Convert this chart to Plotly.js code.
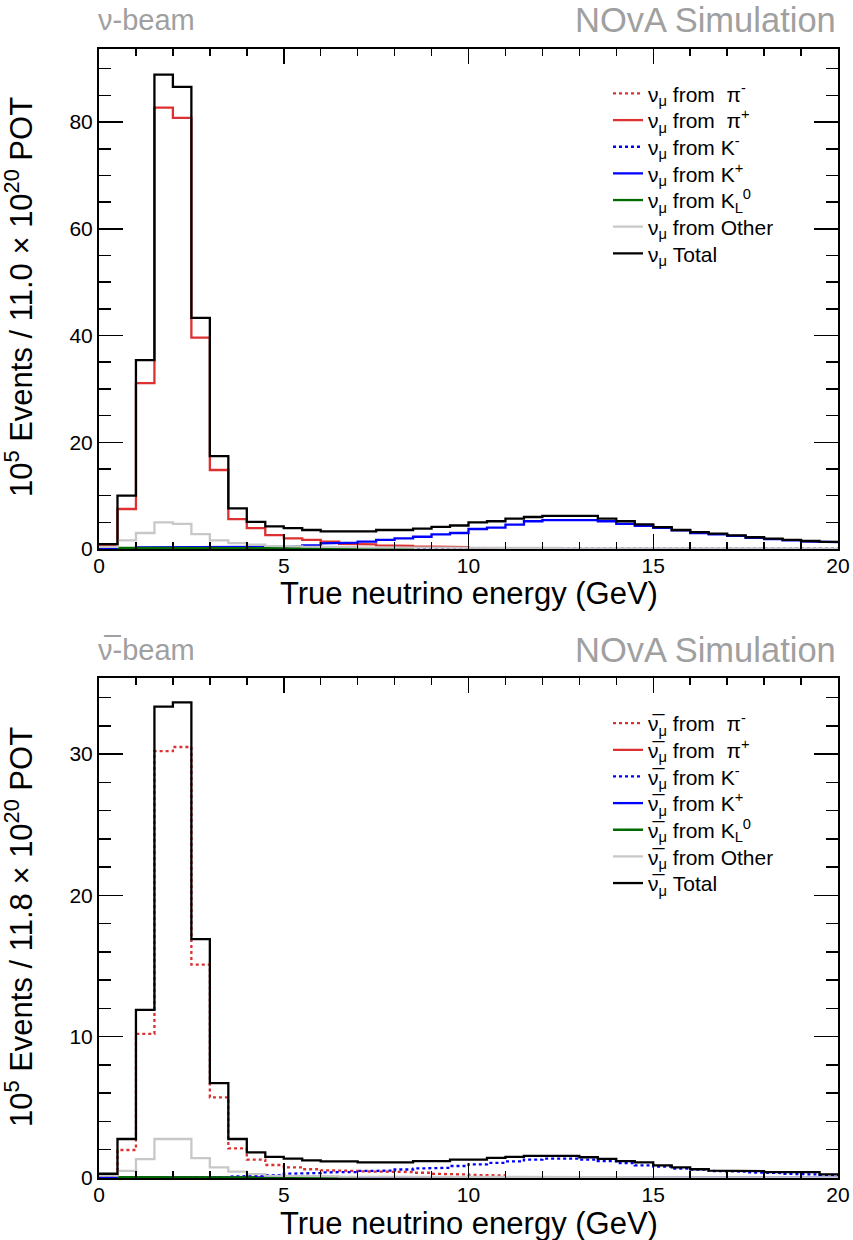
<!DOCTYPE html>
<html><head><meta charset="utf-8">
<script src="https://cdn.plot.ly/plotly-3.0.1.min.js"></script>
<style>body{margin:0;background:#fff}</style>
</head><body><div id="chart" style="width:853px;height:1240px"></div>
<script>
// Bin edges (GeV), 0.5 GeV bins
const binEdges = [0,0.5,1,1.5,2,2.5,3,3.5,4,4.5,5,5.5,6,6.5,7,7.5,8,8.5,9,9.5,10,10.5,11,11.5,12,12.5,13,13.5,14,14.5,15,15.5,16,16.5,17,17.5,18,18.5,19,19.5,20];

// ---- neutrino beam (top panel), units of 1e5 events ----
const nuPiMinus = [0.1,0.12,0.15,0.15,0.15,0.12,0.12,0.1,0.1,0.1,0.08,0.08,0.08,0.06,0.06,0.05,0.05,null,null,null,null,null,null,null,null,null,null,null,null,null,null,null,null,null,null,null,null,null,null,null];
const nuPiPlus  = [0.75,7.5,31.1,82.7,80.8,39.6,14.8,5.6,3.9,2.6,2.0,1.7,1.4,0.94,0.87,0.67,0.6,0.47,0.34,0.34,0.2,0.13,0.13,null,null,null,null,null,null,null,null,null,null,null,null,null,null,null,null,null];
const nuKMinus  = [0.05,0.05,0.06,0.08,0.08,0.08,0.08,0.08,0.08,0.08,0.08,0.1,0.1,0.1,0.1,0.1,0.1,0.1,0.1,0.1,0.1,0.1,0.1,0.1,0.1,0.1,0.1,0.1,0.1,0.1,0.1,0.08,0.08,0.08,0.06,0.06,0.06,0.05,0.05,0.05];
const nuKPlus   = [0.05,0.15,0.3,0.35,0.35,0.35,0.35,0.4,0.4,0.45,0.55,0.67,1.07,1.2,1.4,1.7,2.0,2.3,2.75,3.0,3.75,4.0,4.56,5.2,5.4,5.4,5.4,5.2,4.7,4.36,3.96,3.5,3.0,2.75,2.45,2.1,1.85,1.6,1.42,1.28];
const nuKL      = [null,0.2,0.2,0.25,0.25,0.25,0.2,0.2,0.2,0.18,0.15,0.15,0.12,0.1,0.1,0.08,0.06,null,null,null,null,null,null,null,null,null,null,null,null,null,null,null,null,null,null,null,null,null,null,null];
const nuOther   = [0.4,1.6,3.0,5.0,4.7,2.8,1.6,1.1,0.8,0.6,0.5,0.45,0.4,0.35,0.3,0.3,0.25,0.25,0.2,0.2,0.2,0.2,0.2,0.2,0.2,0.15,0.15,0.15,0.15,0.1,0.1,0.1,0.1,0.1,0.1,0.1,0.1,0.08,0.08,0.08];
const nuTotal   = [0.9,10.0,35.4,88.9,86.6,43.3,17.4,7.6,5.1,4.25,3.9,3.56,3.3,3.3,3.3,3.56,3.56,3.8,4.16,4.4,5.0,5.2,5.7,6.0,6.2,6.2,6.2,5.7,5.2,4.6,4.1,3.56,3.15,2.9,2.55,2.2,1.95,1.7,1.5,1.35];

// ---- antineutrino beam (bottom panel) ----
const anuPiMinus = [0.1,1.98,10.2,30.2,30.5,15.1,5.7,2.1,1.3,0.92,0.75,0.62,0.55,0.5,0.47,0.45,0.42,0.37,0.3,0.25,0.22,0.18,null,null,null,null,null,null,null,null,null,null,null,null,null,null,null,null,null,null];
const anuPiPlus  = [0.05,0.05,0.06,0.06,0.06,0.06,0.05,0.05,0.05,0.04,0.04,0.04,0.04,0.03,0.03,0.03,null,null,null,null,null,null,null,null,null,null,null,null,null,null,null,null,null,null,null,null,null,null,null,null];
const anuKMinus  = [0.03,0.04,0.05,0.05,0.05,0.05,0.06,0.1,0.15,0.2,0.3,0.35,0.4,0.42,0.5,0.52,0.6,0.67,0.72,0.85,0.97,1.07,1.17,1.3,1.37,1.37,1.3,1.2,1.05,0.9,0.8,0.67,0.6,0.5,0.45,0.4,0.35,0.3,0.25,0.22];
const anuKPlus   = [0.03,0.04,0.05,0.05,0.05,0.05,0.05,0.05,0.05,0.05,0.05,0.05,0.05,0.05,0.05,0.05,0.05,0.05,0.05,0.05,0.05,0.05,0.05,0.05,0.05,0.05,0.05,0.05,0.04,0.04,0.04,0.04,0.04,0.03,0.03,0.03,0.03,0.03,0.03,0.03];
const anuKL      = [null,0.06,0.06,0.07,0.07,0.07,0.06,0.06,0.06,0.05,0.05,0.05,0.04,0.04,null,null,null,null,null,null,null,null,null,null,null,null,null,null,null,null,null,null,null,null,null,null,null,null,null,null];
const anuOther   = [0.17,0.5,1.34,2.76,2.76,1.4,0.75,0.45,0.28,0.17,0.15,0.13,0.12,0.1,0.1,0.1,0.09,0.09,0.08,0.08,0.08,0.07,0.07,0.07,0.06,0.06,0.06,0.05,0.05,0.05,0.05,0.05,0.04,0.04,0.04,0.04,0.03,0.03,0.03,0.03];
const anuTotal   = [0.3,2.76,11.9,33.35,33.65,16.9,6.72,2.76,1.82,1.5,1.37,1.25,1.17,1.17,1.1,1.1,1.1,1.2,1.2,1.3,1.3,1.42,1.5,1.57,1.57,1.57,1.47,1.35,1.2,1.1,0.9,0.75,0.62,0.52,0.48,0.48,0.42,0.42,0.42,0.25];

const seriesNames = ["from  π<sup>-</sup>","from  π<sup>+</sup>","from K<sup>-</sup>","from K<sup>+</sup>","from K<sub>L</sub><sup>0</sup>","from Other","Total"];
const seriesColors = ["#dd3030","#dd3030","#0000ff","#0000ff","#006a00","#c8c8c8","#000000"];
const seriesDash = ["3px,3px","solid","3px,3px","solid","solid","solid","solid"];

function steps(vals){
  const x=[], y=[];
  for(let i=0;i<vals.length;i++){
    const v=vals[i];
    if(v===null){ x.push(null); y.push(null); continue; }
    x.push(binEdges[i], binEdges[i+1]); y.push(v, v);
  }
  return {x,y};
}

const FONT = "Liberation Sans, Arial, Helvetica, sans-serif";
const nuSym = "ν<sub>μ</sub> ";
const anuSym = "ν\u0305<sub>μ</sub> ";
const H = 1240, MT = 49, MB = 62, PLOT_H = H - MT - MB, ML = 99, PLOT_W = 853 - 99 - 15;
const py = p => (H - MB - p) / PLOT_H;   // pixel row -> paper y
const px = p => (p - ML) / PLOT_W;       // pixel col -> paper x

const traces = [];
const layout = {
  width:853,height:1240,margin:{l:ML,r:15,t:MT,b:MB},
  paper_bgcolor:"#fff",plot_bgcolor:"#fff",font:{family:FONT},
  showlegend:true,hovermode:false
};
const topSets = [nuPiMinus,nuPiPlus,nuKMinus,nuKPlus,nuKL,nuOther,nuTotal];
const botSets = [anuPiMinus,anuPiPlus,anuKMinus,anuKPlus,anuKL,anuOther,anuTotal];
function addPanel(sets, sym, xa, ya, firstRow, legOffset){
  sets.forEach((vals,k)=>{
    const s=steps(vals);
    const lname = (legOffset+k)===0 ? "legend" : "legend"+(legOffset+k+1);
    traces.push({type:"scatter",mode:"lines",x:s.x,y:s.y,xaxis:xa,yaxis:ya,
      name:sym+seriesNames[k],legend:lname,connectgaps:false,
      line:{color:seriesColors[k],width:2.3,dash:seriesDash[k]},hoverinfo:"skip"});
    layout[lname] = {x:px(608),y:py(firstRow+26.65*k),xanchor:"left",yanchor:"middle",
      font:{size:21,family:FONT,color:"#000"},bgcolor:"rgba(0,0,0,0)",borderwidth:0};
  });
}
addPanel(topSets, nuSym, "x", "y", 93.8, 0);
addPanel(botSets, anuSym, "x2", "y2", 723.5, 7);

function xax(anchor){
  return {anchor:anchor,domain:[0,1],range:[0,20],showline:true,linewidth:2,linecolor:"#000",
    mirror:"ticks",ticks:"inside",ticklen:15,tickwidth:1.5,tickcolor:"#000",dtick:5,tick0:0,
    minor:{ticks:"inside",ticklen:7,dtick:1,tickwidth:1.5,tickcolor:"#000",showgrid:false},
    showgrid:false,zeroline:false,ticklabelstandoff:-3,tickfont:{size:21,family:FONT,color:"#000"}};
}
function yax(anchor,domain,range,dt,mdt){
  return {anchor:anchor,domain:domain,range:range,showline:true,linewidth:2,linecolor:"#000",
    mirror:"ticks",ticks:"inside",ticklen:24,tickwidth:1.5,tickcolor:"#000",dtick:dt,tick0:0,
    minor:{ticks:"inside",ticklen:12,dtick:mdt,tickwidth:1.5,tickcolor:"#000",showgrid:false},
    showgrid:false,zeroline:false,tickfont:{size:21,family:FONT,color:"#000"}};
}
layout.xaxis = xax("y");
layout.yaxis = yax("x",[py(549),1],[0,93.7],20,5);
layout.xaxis2 = xax("y2");
layout.yaxis2 = yax("x2",[0,py(678.3)],[0,35.36],10,2);

const grey="#a0a0a0";
const xTitle = "True neutrino energy (GeV)";
layout.annotations = [
  {text:"ν-beam",xref:"paper",yref:"paper",x:px(96),y:py(20),xanchor:"left",yanchor:"middle",showarrow:false,font:{size:29,family:FONT,color:grey}},
  {text:"NOvA Simulation",xref:"paper",yref:"paper",x:1,y:py(20),xanchor:"right",yanchor:"middle",showarrow:false,font:{size:34.5,family:FONT,color:grey}},
  {text:"ν\u0305-beam",xref:"paper",yref:"paper",x:px(96),y:py(650),xanchor:"left",yanchor:"middle",showarrow:false,font:{size:29,family:FONT,color:grey}},
  {text:"NOvA Simulation",xref:"paper",yref:"paper",x:1,y:py(650),xanchor:"right",yanchor:"middle",showarrow:false,font:{size:34.5,family:FONT,color:grey}},
  {text:xTitle,xref:"paper",yref:"paper",x:px(469),y:py(593),xanchor:"center",yanchor:"middle",showarrow:false,font:{size:31,family:FONT,color:"#000"}},
  {text:xTitle,xref:"paper",yref:"paper",x:px(469),y:py(1223.5),xanchor:"center",yanchor:"middle",showarrow:false,font:{size:31,family:FONT,color:"#000"}},
  {text:"10<sup>5</sup> Events / 11.0 × 10<sup>20</sup> POT",xref:"paper",yref:"paper",x:px(19),y:py(297),xanchor:"center",yanchor:"middle",textangle:-90,showarrow:false,font:{size:31,family:FONT,color:"#000"}},
  {text:"10<sup>5</sup> Events / 11.8 × 10<sup>20</sup> POT",xref:"paper",yref:"paper",x:px(19),y:py(927),xanchor:"center",yanchor:"middle",textangle:-90,showarrow:false,font:{size:31,family:FONT,color:"#000"}}
];
Plotly.newPlot("chart",traces,layout,{displayModeBar:false,staticPlot:true});
</script></body></html>
